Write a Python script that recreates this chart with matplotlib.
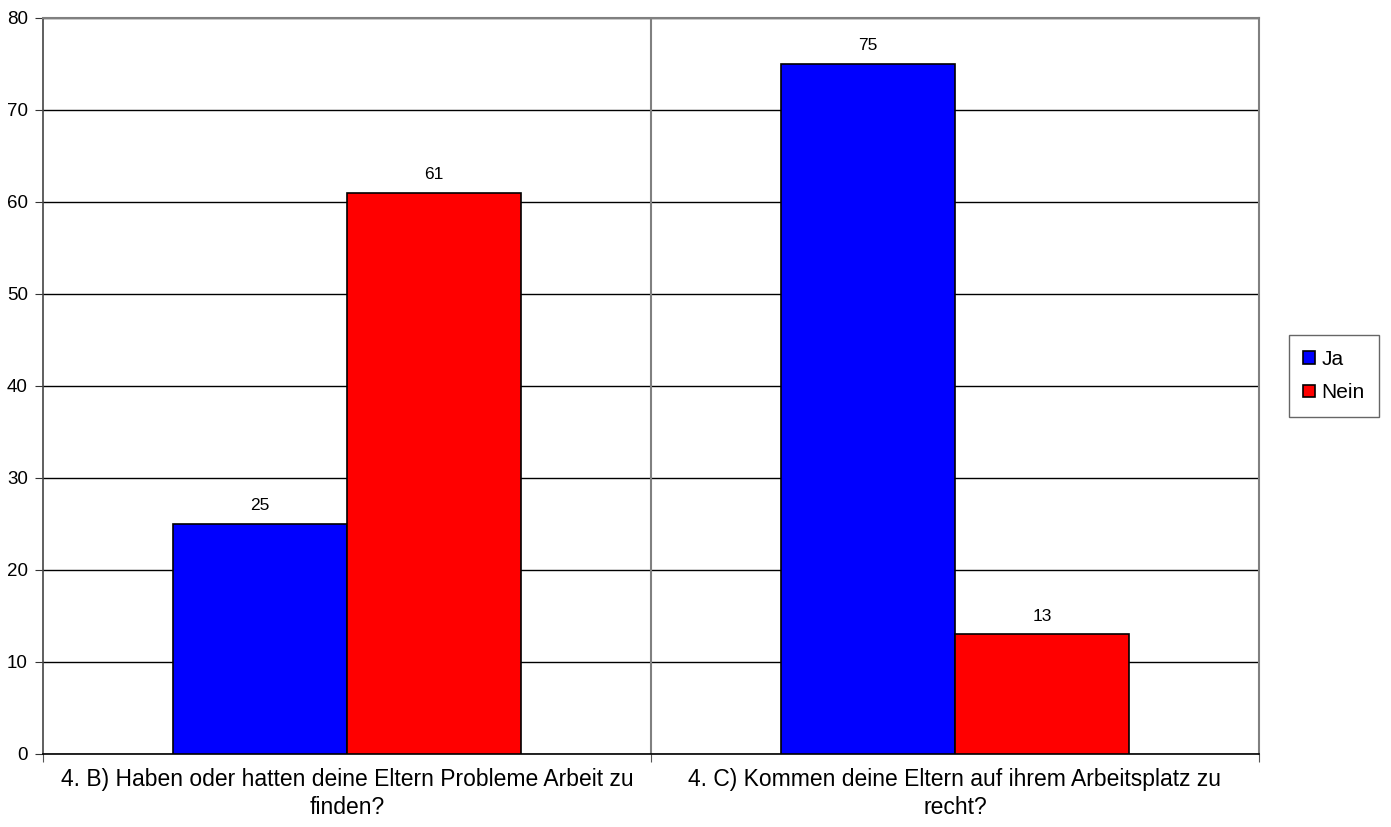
import numpy as np
import matplotlib.pyplot as plt

plt.rcParams['font.family'] = ['Liberation Sans', 'DejaVu Sans']

categories = ["4. B) Haben oder hatten deine Eltern Probleme Arbeit zu\nfinden?",
              "4. C) Kommen deine Eltern auf ihrem Arbeitsplatz zu\nrecht?"]
ja = [25, 75]
nein = [61, 13]
series = ["Ja", "Nein"]
colors = ["#0000ff", "#ff0000"]

fig = plt.figure(figsize=(13.91, 8.27), dpi=100)
ax = fig.add_axes([43 / 1391, 1 - 754 / 827, (1259 - 43) / 1391, (754 - 18) / 827])

x = np.arange(len(categories))
w = 1 / 3.5
for i, (vals, name, c) in enumerate(zip([ja, nein], series, colors)):
    pos = x + (i - 0.5) * w
    bars = ax.bar(pos, vals, width=w, color=c, edgecolor="black", linewidth=1.2,
                  label=name, zorder=3)
    for b, v in zip(bars, vals):
        ax.annotate(str(v), (b.get_x() + b.get_width() / 2, v), xytext=(0, 10),
                    textcoords="offset points", ha="center", va="baseline",
                    fontsize=12.5)

ax.set_xlim(-0.5, len(categories) - 0.5)
ax.set_ylim(0, 80)
ax.set_yticks(range(0, 81, 10))
ax.yaxis.grid(True, color="black", linewidth=1)
ax.set_axisbelow(True)

# category separators
ax.set_xticks([-0.5, 0.5, 1.5], minor=False)
ax.set_xticklabels([])
ax.set_xticks(x, minor=True)
ax.set_xticklabels(categories, minor=True, fontsize=16.5, linespacing=1.3)
ax.tick_params(axis="x", which="major", length=6, color="#555555")
ax.tick_params(axis="x", which="minor", length=0, pad=10)
ax.tick_params(axis="y", length=6, labelsize=13.5, color="#333333", pad=5)
ax.axvline(0.5, color="#808080", linewidth=1.5, zorder=1)

for s in ["top", "right"]:
    ax.spines[s].set_color("#808080")
    ax.spines[s].set_linewidth(1.5)
ax.spines["left"].set_color("#444444")
ax.spines["bottom"].set_color("black")
ax.spines["left"].set_linewidth(1.2)
ax.spines["bottom"].set_linewidth(1.2)

leg = fig.legend(loc="center", bbox_to_anchor=(1334 / 1391, 1 - 376 / 827),
                 fontsize=15, frameon=True, fancybox=False, edgecolor="#404040",
                 handlelength=0.56, handleheight=0.56, handletextpad=0.3,
                 labelspacing=0.7, borderpad=0.7)
leg.get_frame().set_linewidth(1)

fig.savefig("out.png", dpi=100)
